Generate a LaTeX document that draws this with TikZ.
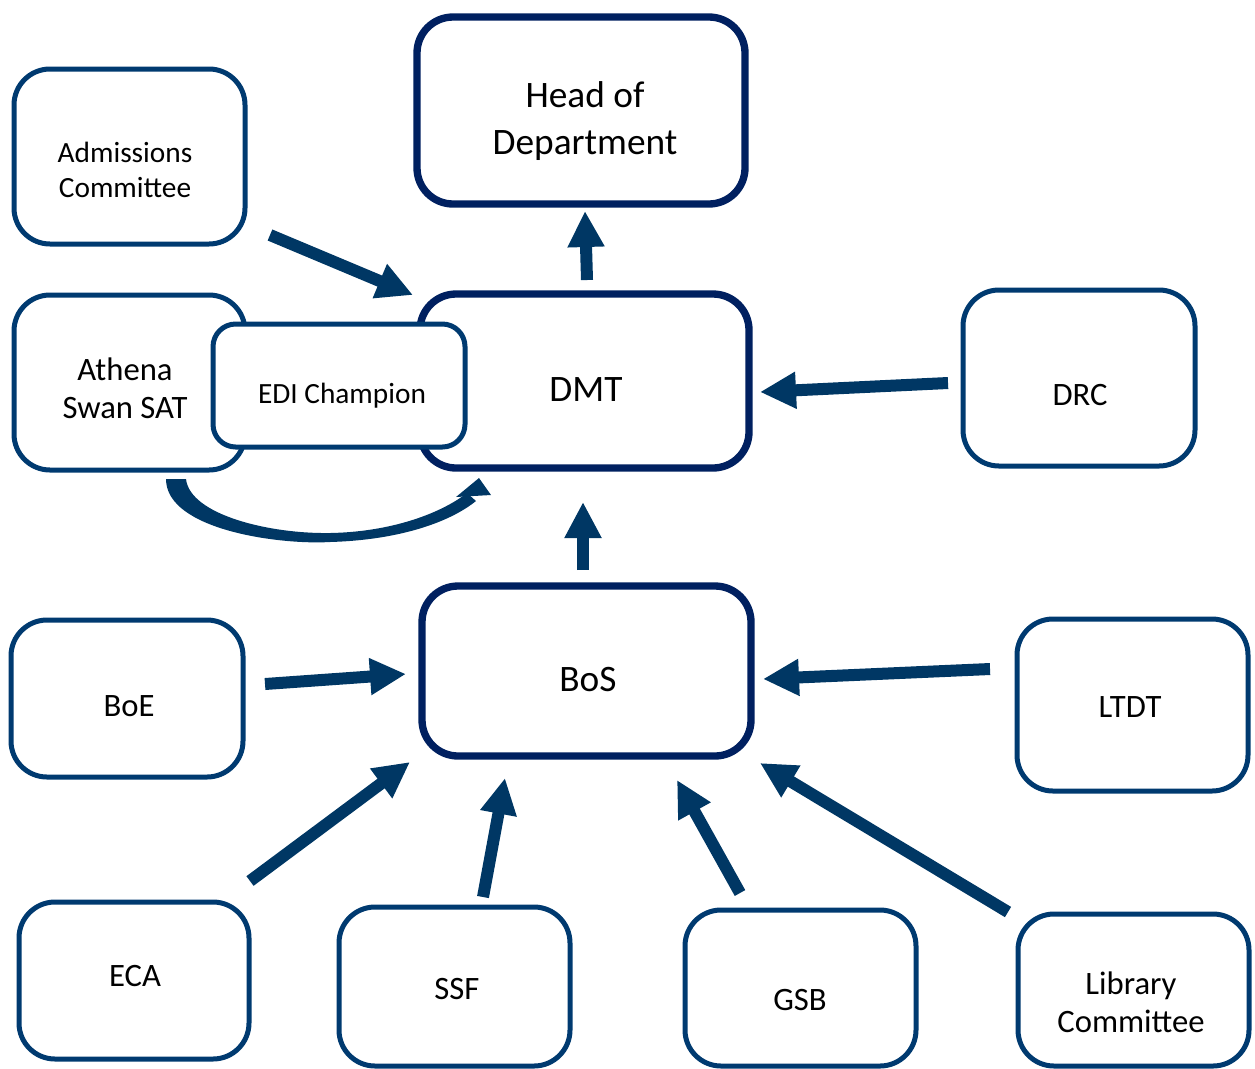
\documentclass[tikz,border=0pt]{standalone}
\usepackage{fontspec}
\setmainfont{Carlito}
\usetikzlibrary{arrows.meta,calc}
\definecolor{navy}{HTML}{002060}
\definecolor{boxblue}{HTML}{003A70}
\definecolor{arrblue}{HTML}{003764}
\tikzset{
 bx/.style={draw=boxblue, line width=3.75pt, rounded corners=27pt, fill=white, outer sep=0pt, inner sep=0pt},
 mainbx/.style={bx, draw=navy, line width=5.5pt},
 txt/.style={align=center, inner sep=0pt, font=\fontsize{24.5}{28.5}\selectfont},
 maintxt/.style={txt, font=\fontsize{28}{35}\selectfont},
 smalltxt/.style={txt, font=\fontsize{22}{26}\selectfont},
 arr/.style={draw=arrblue, line width=9pt, -{Triangle[length=27pt,width=26pt]}},
}
\begin{document}
\begin{tikzpicture}[x=0.75pt,y=-0.75pt]
\useasboundingbox (0,0) rectangle (1255,1068);
% boxes
\node[mainbx, minimum width=246pt, minimum height=140.25pt] (hod) at (581,110.5) {};
\node[bx, minimum width=173.25pt, minimum height=131.25pt] (adm) at (129.5,156.5) {};
\node[bx, minimum width=173.25pt, minimum height=131.25pt] (ath) at (129.5,382.5) {};
\node[mainbx, minimum width=246.75pt, minimum height=130.5pt] (dmt) at (584.5,381) {};
\node[bx, rounded corners=17pt, minimum width=189pt, minimum height=92.25pt] (edi) at (339,385.5) {};
\node[bx, minimum width=174pt, minimum height=132pt] (drc) at (1079,378) {};
\node[mainbx, minimum width=246.75pt, minimum height=127.5pt] (bos) at (586.5,671) {};
\node[bx, minimum width=174pt, minimum height=117.75pt] (boe) at (127,698.5) {};
\node[bx, minimum width=173.25pt, minimum height=129pt] (ltdt) at (1132.5,705) {};
\node[bx, minimum width=172.5pt, minimum height=117.75pt] (eca) at (134,980.5) {};
\node[bx, minimum width=173.25pt, minimum height=119.25pt] (ssf) at (454.5,986.5) {};
\node[bx, minimum width=173.25pt, minimum height=117pt] (gsb) at (800.5,988) {};
\node[bx, minimum width=173.25pt, minimum height=114pt] (lib) at (1133.5,990) {};
% texts
\node[maintxt] (hodt) at (585,121) {Head of\\Department};
\node[smalltxt] (admt) at (125,170) {Admissions\\Committee};
\node[txt] (atht) at (125,388.5) {Athena\\Swan SAT};
\node[maintxt] (dmtt) at (586,390) {DMT};
\node[smalltxt] (edit) at (342,396) {EDI Champion};
\node[txt] (drct) at (1080,395) {DRC};
\node[maintxt] (bost) at (588,679) {BoS};
\node[txt] (boet) at (129,706) {BoE};
\node[txt] (ltdtt) at (1130,707) {LTDT};
\node[txt] (ecat) at (135,976) {ECA};
\node[txt] (ssft) at (457,989) {SSF};
\node[txt] (gsbt) at (800,1000) {GSB};
\node[txt] (libt) at (1131,1002) {Library\\Committee};
% arrows
\draw[arr] ([shift={(25,-9)}]adm.south east) -- ([shift={(-7,1)}]dmt.north west);
\draw[arr] ([shift={(2.5,-14)}]dmt.north) -- ([shift={(4,7)}]hod.south);
\draw[arr] ([shift={(-15,5)}]drc.west) -- ([shift={(11,11)}]dmt.east);
\draw[arr] ([shift={(-3.5,-16)}]bos.north) -- ([shift={(-1.5,34)}]dmt.south);
\draw[arr] ([shift={(22,-14.5)}]boe.east) -- ([shift={(-16,3)}]bos.west);
\draw[arr] ([shift={(-27,-36)}]ltdt.west) -- ([shift={(12,8)}]bos.east);
\draw[arr] ([shift={(1,-21)}]eca.north east) -- ([shift={(-12,6)}]bos.south west);
\draw[arr] ([shift={(28.5,-10)}]ssf.north) -- ([shift={(-81.5,22)}]bos.south);
\draw[arr] ([shift={(-60.5,-17)}]gsb.north) -- ([shift={(90.5,24)}]bos.south);
\draw[arr] ([shift={(-10,-2)}]lib.north west) -- ([shift={(9,7)}]bos.south east);
% curved arrow from Athena Swan SAT to DMT
\fill[arrblue] (166,479) .. controls (166,530) and (280,545) .. (330,542)
  .. controls (400,540) and (450,522) .. (476,501)
  -- (467,493) .. controls (440,514) and (390,532) .. (330,533)
  .. controls (270,534) and (190,515) .. (186,479) -- cycle;
\fill[arrblue] (456,497) -- (479,478) -- (491,495) -- cycle;
\end{tikzpicture}
\end{document}
